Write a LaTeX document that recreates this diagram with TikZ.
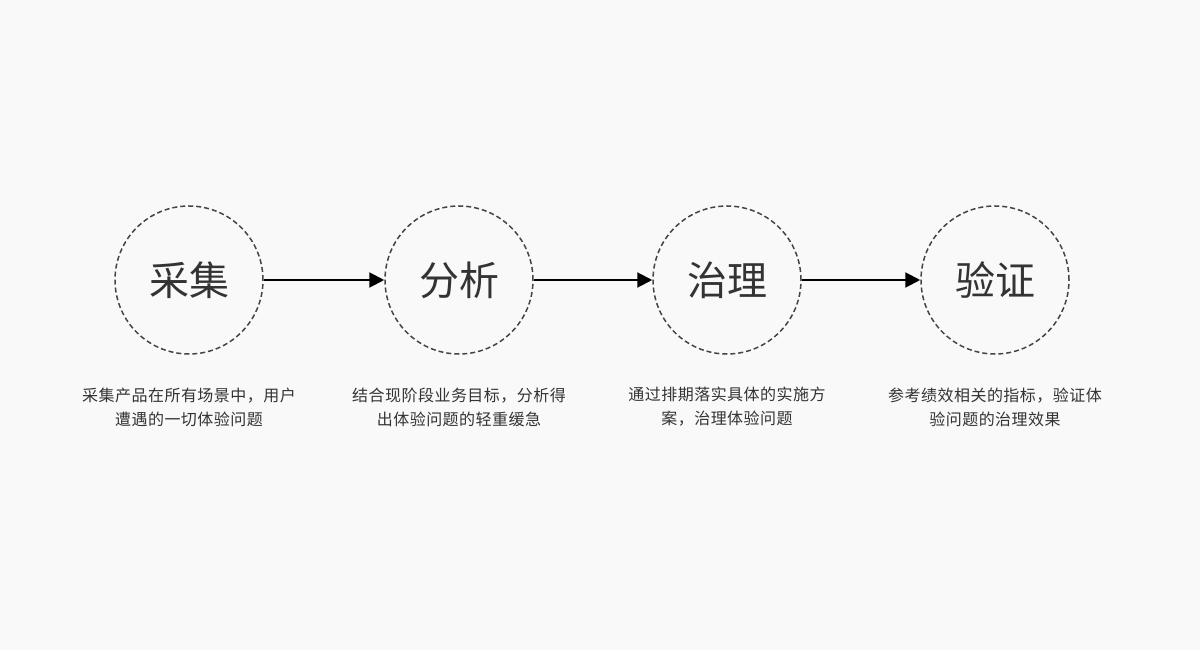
\documentclass[tikz,border=0pt]{standalone}
\usepackage{fontspec}
\setmainfont{Noto Sans CJK SC}
\usetikzlibrary{arrows.meta}
\definecolor{bg}{HTML}{F9F9F9}
\definecolor{ink}{HTML}{333333}
\definecolor{ring}{HTML}{444444}
\begin{document}
\begin{tikzpicture}[x=1pt,y=-1pt,
  stage/.style={circle,draw=ring,line width=1.5pt,dash pattern=on 5pt off 3pt,
    minimum size=148pt,inner sep=0pt,text=ink,font=\fontsize{40}{42}\selectfont},
  desc/.style={align=center,text=ink,inner sep=0pt,
    font=\fontsize{16}{24}\selectfont\addfontfeature{LetterSpace=3}},
  flow/.style={line width=2pt,black,-{Triangle[length=15pt,width=15pt]}}]
\fill[bg] (0,0) rectangle (1200,650);
\useasboundingbox (0,0) rectangle (1200,650);
\node[stage] (s1) at (189,280) {采集};
\node[stage] (s2) at (459,280) {分析};
\node[stage] (s3) at (727,280) {治理};
\node[stage] (s4) at (995,280) {验证};
\draw[flow] (s1.east) -- (s2.west);
\draw[flow] (s2.east) -- (s3.west);
\draw[flow] (s3.east) -- (s4.west);
\node[desc] (d1) at (189,407) {采集产品在所有场景中，用户\\遭遇的一切体验问题};
\node[desc] (d2) at (459,407) {结合现阶段业务目标，分析得\\出体验问题的轻重缓急};
\node[desc] (d3) at (727,407) {通过排期落实具体的实施方\\案，治理体验问题};
\node[desc] (d4) at (995,407) {参考绩效相关的指标，验证体\\验问题的治理效果};
\end{tikzpicture}
\end{document}
